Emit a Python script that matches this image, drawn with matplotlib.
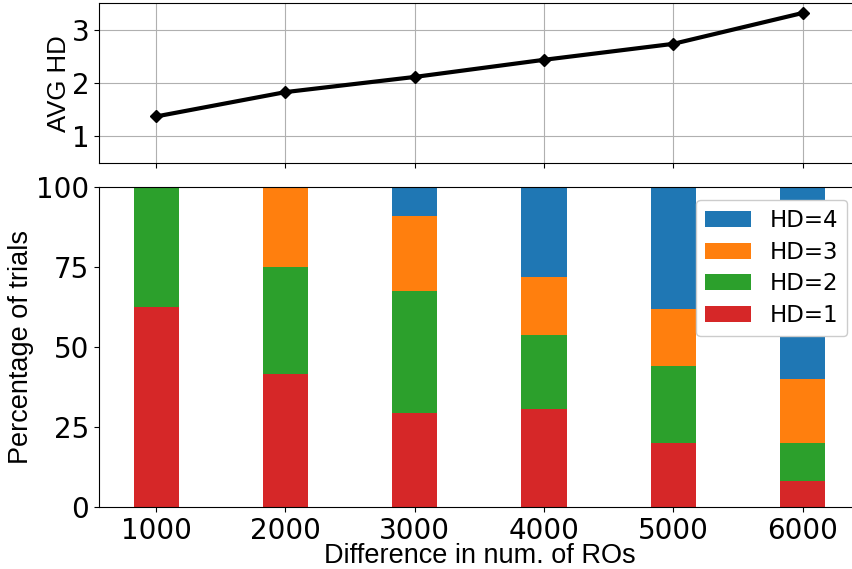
import numpy as np
import matplotlib.pyplot as plt

diffs = [1000, 2000, 3000, 4000, 5000, 6000]

# share of trials (%) for each Hamming distance
hd1 = [62.5, 41.7, 29.4, 30.6, 20.0, 8.0]
hd2 = [37.5, 33.3, 38.2, 23.1, 24.2, 12.0]
hd3 = [0.0, 25.0, 23.5, 18.2, 17.7, 20.0]
hd4 = [0.0, 0.0, 8.9, 28.1, 38.1, 60.0]

avg_hd = [1.375, 1.833, 2.118, 2.44, 2.74, 3.32]

plt.rcParams["font.size"] = 20

fig = plt.figure(figsize=(8.53, 5.69), dpi=100)
ax_top = fig.add_axes([0.116, 0.7135, 0.892, 0.2805])
ax_bot = fig.add_axes([0.116, 0.109, 0.892, 0.562], sharex=ax_top)

ax_top.plot(diffs, avg_hd, color="black", lw=3, marker="D", markersize=6.5)
ax_top.set_ylim(0.5, 3.5)
ax_top.set_yticks([1, 2, 3])
ax_top.set_ylabel("AVG HD", family="Liberation Sans", fontsize=18.5, labelpad=0)
ax_top.grid(True)
ax_top.tick_params(labelbottom=False)

width = 350
b1 = np.array(hd1)
b2 = b1 + np.array(hd2)
b3 = b2 + np.array(hd3)
ax_bot.bar(diffs, hd1, width, color="tab:red", label="HD=1")
ax_bot.bar(diffs, hd2, width, bottom=b1, color="tab:green", label="HD=2")
ax_bot.bar(diffs, hd3, width, bottom=b2, color="tab:orange", label="HD=3")
ax_bot.bar(diffs, hd4, width, bottom=b3, color="tab:blue", label="HD=4")
ax_bot.set_ylim(0, 100)
ax_bot.set_yticks([0, 25, 50, 75, 100])
ax_bot.set_xticks(diffs)
ax_bot.set_xlabel("Difference in num. of ROs", family="Liberation Sans",
                  fontsize=19.5, labelpad=-1)
ax_bot.set_ylabel("Percentage of trials", family="Liberation Sans",
                  fontsize=19.5, labelpad=1.5)

handles, labels = ax_bot.get_legend_handles_labels()
ax_bot.legend(handles[::-1], labels[::-1], loc="upper right", fontsize=16.5,
              labelspacing=0.38, borderaxespad=0.55, framealpha=1)

fig.savefig("out.png", dpi=100)
